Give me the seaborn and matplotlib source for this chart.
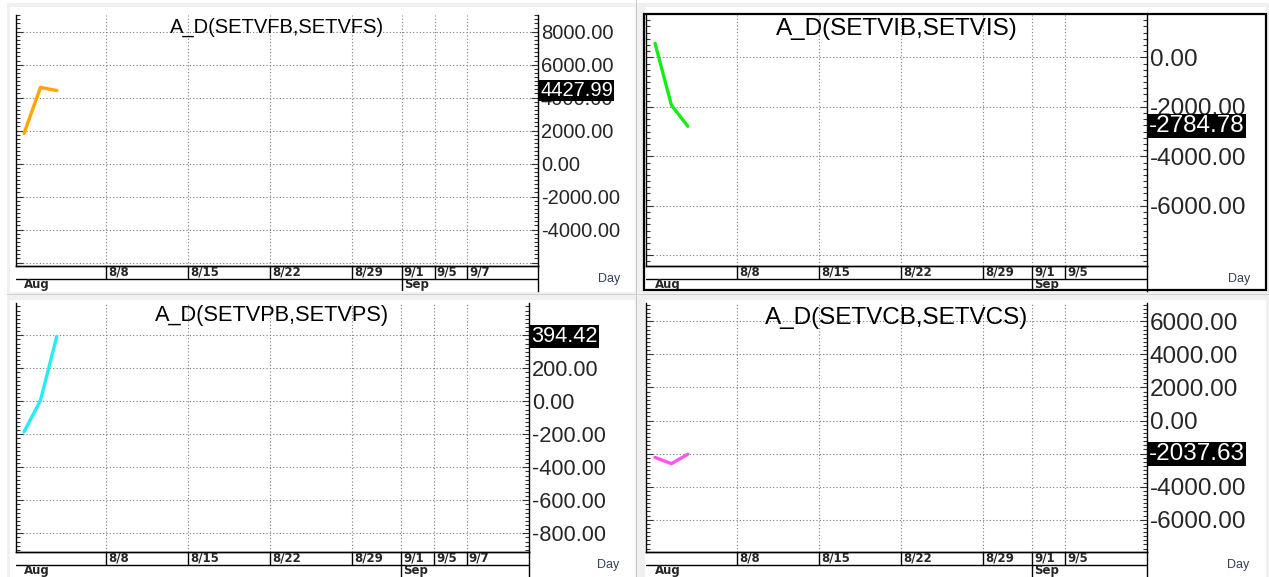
import pandas as pd
import seaborn as sns
import matplotlib.pyplot as plt
import matplotlib.transforms as mtransforms
from matplotlib.patches import Rectangle
from matplotlib.ticker import AutoMinorLocator

W, H = 1269, 577

# trading days used as the x scale
days = pd.bdate_range("2022-08-01", "2022-09-16")
day_names = [f"{d.month}/{d.day}" for d in days]
pos = {name: i for i, name in enumerate(day_names)}

obs_days = ["8/1", "8/2", "8/3"]
vf_values = [1830, 4620, 4427.99]
vi_values = [570, -1930, -2784.78]
vp_values = [-185, 5, 394.42]
vc_values = [-2230, -2610, -2037.63]

date_ticks_left = ["8/8", "8/15", "8/22", "8/29", "9/1", "9/5", "9/7"]
date_ticks_right = ["8/8", "8/15", "8/22", "8/29", "9/1", "9/5"]
month_days = ["8/1", "9/1"]
month_names = ["Aug", "Sep"]

vf_ticks = [8000, 6000, 4000, 2000, 0, -2000, -4000, -6000]
vi_ticks = [0, -2000, -4000, -6000, -8000]
vp_ticks = [400, 200, 0, -200, -400, -600, -800]
vc_ticks = [6000, 4000, 2000, 0, -2000, -4000, -6000]

sns.set_style("white")
plt.rcParams['font.family'] = ['Liberation Sans', 'DejaVu Sans']

panels = [
    dict(title="A_D(SETVFB,SETVFS)", y=vf_values, color="#FFA500", ticks=vf_ticks,
         hide=[-6000], ylim=(-6210, 9010), xlim=(-0.49, 31.3), box=(16, 15, 538, 266),
         fs=14.5, title_off=12, dates=date_ticks_left, day_x=609),
    dict(title="A_D(SETVIB,SETVIS)", y=vi_values, color="#14EE14", ticks=vi_ticks,
         hide=[-8000], ylim=(-8433, 1713), xlim=(-0.55, 30.0), box=(646, 15, 1147, 266),
         fs=17.5, title_off=14, dates=date_ticks_right, day_x=1239),
    dict(title="A_D(SETVPB,SETVPS)", y=vp_values, color="#22EEF5", ticks=vp_ticks,
         hide=[], ylim=(-913, 596), xlim=(-0.49, 30.8), box=(16, 303, 529, 552),
         fs=15.7, title_off=13, dates=date_ticks_left, day_x=608),
    dict(title="A_D(SETVCB,SETVCS)", y=vc_values, color="#FF55EE", ticks=vc_ticks,
         hide=[], ylim=(-7954, 7113), xlim=(-0.55, 30.0), box=(646, 303, 1147, 552),
         fs=17.5, title_off=15, dates=date_ticks_right, day_x=1238),
]


def frac(x0, y0, x1, y1):
    return [x0 / W, 1 - y1 / H, (x1 - x0) / W, (y1 - y0) / H]


fig = plt.figure(figsize=(W / 100, H / 100), dpi=100, facecolor="white")

# window frames
fig.add_artist(Rectangle((7 / W, 0), 1, 1 - 3 / H, transform=fig.transFigure,
                         fc="#f0f0f0", ec="none", zorder=-3))
for x0, y0, x1, y1 in [(10, 7, 635, 292), (645, 7, 1266, 292),
                       (10, 300, 635, 577), (645, 300, 1266, 577)]:
    fig.add_artist(Rectangle((x0 / W, 1 - y1 / H), (x1 - x0) / W, (y1 - y0) / H,
                             transform=fig.transFigure, fc="white", ec="none", zorder=-2))
fig.add_artist(Rectangle((636 / W, 0), 1 / W, 1, transform=fig.transFigure,
                         fc="#c8c8c8", ec="none", zorder=-1))
fig.add_artist(Rectangle((7 / W, 1 - 295 / H), 1, 1 / H, transform=fig.transFigure,
                         fc="#d0d0d0", ec="none", zorder=-1))

for p in panels:
    x0, y0, x1, y1 = p["box"]
    ax = fig.add_axes(frac(x0, y0, x1, y1))
    ax.patch.set_alpha(0)
    xs = [pos[d] for d in obs_days]
    sns.lineplot(x=xs, y=p["y"], ax=ax, color=p["color"], lw=2.4)

    ax.set_xlim(*p["xlim"])
    ax.set_ylim(*p["ylim"])
    ax.set_xticks([pos[d] for d in p["dates"]])
    ax.tick_params(axis="x", length=0, labelbottom=False)
    ax.set_yticks(p["ticks"])
    ax.set_yticklabels(["" if t in p["hide"] else f"{t:.2f}" for t in p["ticks"]],
                       fontsize=p["fs"])
    ax.yaxis.set_minor_locator(AutoMinorLocator(8))
    ax.tick_params(axis="y", which="both", left=True, right=True, direction="in",
                   labelleft=False, labelright=True, pad=2, color="#333333", width=0.8)
    ax.tick_params(axis="y", which="major", length=5)
    ax.tick_params(axis="y", which="minor", length=3)
    ax.grid(True, which="major", ls=(0, (1, 2)), color="#7a7a7a", lw=0.8)
    ax.set_xlabel("")
    ax.set_ylabel("")
    ax.spines["top"].set_visible(False)
    for s in ["left", "bottom", "right"]:
        ax.spines[s].set_color("black")
        ax.spines[s].set_linewidth(1)

    ax.annotate(p["title"], xy=(0.5, 1), xycoords="axes fraction",
                xytext=(0, -p["title_off"] * 0.72), textcoords="offset points",
                ha="center", va="center", fontsize=p["fs"], color="black")

    last = p["y"][-1]
    trans = mtransforms.blended_transform_factory(ax.transAxes, ax.transData)
    ax.annotate(f"{last:.2f}", xy=(1, last), xycoords=trans, xytext=(1.5, 0),
                textcoords="offset points", ha="left", va="center",
                fontsize=p["fs"], color="white", zorder=10, annotation_clip=False,
                bbox=dict(boxstyle="square,pad=0.05", fc="black", ec="none"))

    # date rows
    dax = fig.add_axes(frac(x0, y1, x1, y1 + 25))
    dax.patch.set_alpha(0)
    dax.set_xlim(*p["xlim"])
    dax.set_ylim(0, 2)
    dax.set_xticks([])
    dax.set_yticks([])
    for s in ["left", "bottom"]:
        dax.spines[s].set_visible(False)
    for s in ["top", "right"]:
        dax.spines[s].set_color("black")
        dax.spines[s].set_linewidth(1)
    dax.axhline(1, color="black", lw=1)
    tick_x = [pos[d] for d in p["dates"]]
    dax.vlines(tick_x, 1, 2, color="black", lw=1)
    dax.vlines([pos[d] for d in month_days[1:]], 0, 1, color="black", lw=1)
    for d in p["dates"]:
        dax.annotate(d, xy=(pos[d], 1.5), xytext=(1.5, 0), textcoords="offset points",
                     ha="left", va="center", fontsize=8.5, fontweight="bold",
                     family=["Liberation Sans Narrow", "DejaVu Sans"])
    for d, m in zip(month_days, month_names):
        dax.annotate(m, xy=(pos[d], 0.5), xytext=(1.5 if d != "8/1" else 0, 0),
                     textcoords="offset points", ha="left", va="center",
                     fontsize=8.5, fontweight="bold",
                     family=["Liberation Sans Narrow", "DejaVu Sans"])

    fig.text(p["day_x"] / W, 1 - (y1 + 13) / H, "Day", ha="center", va="center",
             fontsize=9, color="#34405a")

# active window border
fig.add_artist(Rectangle((644 / W, 1 - 290 / H), 622 / W, 276 / H,
                         transform=fig.transFigure, fill=False, ec="black", lw=1.6,
                         zorder=20))

fig.savefig("out.png", dpi=100, facecolor=fig.get_facecolor())
